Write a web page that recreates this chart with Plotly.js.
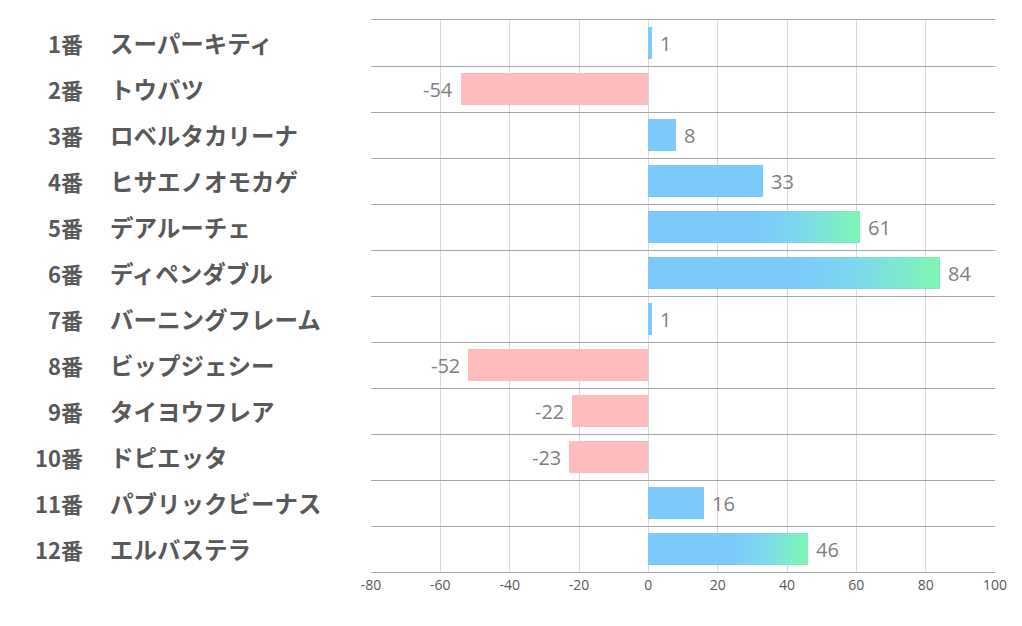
<!DOCTYPE html>
<html><head><meta charset="utf-8">
<script src="https://cdn.plot.ly/plotly-3.0.1.min.js"></script>
<style>body{margin:0;background:#fff}#c{width:1022px;height:626px}</style>
</head><body><div id="c"></div>
<script>
const numbers = ["1番","2番","3番","4番","5番","6番","7番","8番","9番","10番","11番","12番"];
const names = ["スーパーキティ","トウバツ","ロベルタカリーナ","ヒサエノオモカゲ","デアルーチェ","ディペンダブル","バーニングフレーム","ビップジェシー","タイヨウフレア","ドピエッタ","パブリックビーナス","エルバステラ"];
const values = [1,-54,8,33,61,84,1,-52,-22,-23,16,46];
const gradientRows = [4,5,11];
const xTicks = [-80,-60,-40,-20,0,20,40,60,80,100];

const BLUE = "#7cc9fc", MID = "#7dd8ee", GREEN = "#7ef8b2", PINK = "#ffbcbe";
const idx = values.map((v,i)=>i);
const half = 0.34;

const traces = [{
  type:"bar", orientation:"h", x:values, y:idx, width:half*2,
  marker:{color:values.map(v=>v>=0?BLUE:PINK)}, hoverinfo:"none"
}];
gradientRows.forEach(i=>{
  const v = values[i];
  traces.push({
    type:"scatter", mode:"none", x:[0,v,v,0,0], y:[i-half,i-half,i+half,i+half,i-half],
    fill:"toself", hoverinfo:"none",
    fillgradient:{type:"horizontal", colorscale:[[0,BLUE],[0.5,BLUE],[0.72,MID],[1,GREEN]]}
  });
});

const ann = [];
values.forEach((v,i)=>{
  ann.push({x:v, y:i, xref:"x", yref:"y", text:String(v), showarrow:false,
    xanchor: v>=0?"left":"right", xshift: v>=0?6:-6,
    font:{family:"Open Sans, Noto Sans", size:20, color:"#7f7f7f"}});
  ann.push({x:0, y:i, xref:"paper", yref:"y", text:numbers[i], showarrow:false,
    xanchor:"right", xshift:-286,
    font:{family:"Noto Sans CJK JP", size:22, color:"#595959", weight:"bold"}});
  ann.push({x:0, y:i, xref:"paper", yref:"y", text:names[i], showarrow:false,
    xanchor:"left", xshift:-263,
    font:{family:"Noto Sans CJK JP", size:23.5, color:"#595959", weight:"bold"}});
});

const layout = {
  width:1022, height:626, margin:{l:371, r:27, t:20, b:54},
  paper_bgcolor:"#fff", plot_bgcolor:"#fff", showlegend:false,
  xaxis:{range:[-80,100], tickvals:xTicks, ticktext:xTicks.map(String),
    showgrid:true, gridcolor:"#d9d9d9", gridwidth:1, zeroline:false,
    showline:true, mirror:true, linecolor:"#a6a6a6", ticks:"", ticklen:0,
    tickfont:{family:"Open Sans, Noto Sans", size:14, color:"#595959"}},
  yaxis:{range:[11.5,-0.5], tickvals:[-0.5,0.5,1.5,2.5,3.5,4.5,5.5,6.5,7.5,8.5,9.5,10.5,11.5],
    showticklabels:false, showgrid:true, gridcolor:"#a6a6a6", gridwidth:1, zeroline:false, fixedrange:true},
  annotations:ann, bargap:0
};
Plotly.newPlot("c", traces, layout, {staticPlot:true});
</script></body></html>
